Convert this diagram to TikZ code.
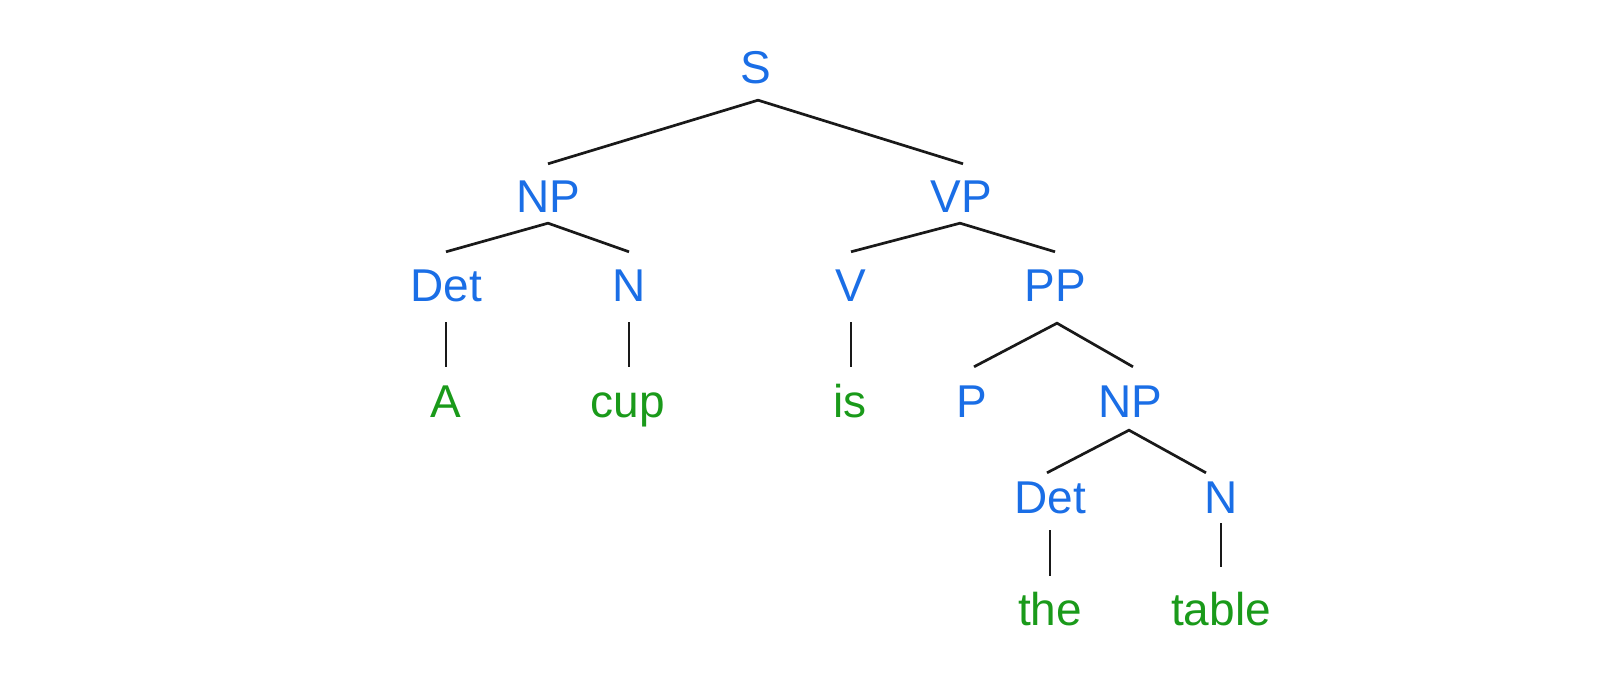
\documentclass[tikz,border=0pt]{standalone}
\usepackage{fontspec}
\setmainfont{Liberation Sans}
\definecolor{catblue}{HTML}{1A6EE6}
\definecolor{wordgreen}{HTML}{1A9A1A}
\begin{document}
\begin{tikzpicture}[x=1pt,y=1pt,
  lab/.style={anchor=base,inner sep=0pt,text height=33pt,text depth=0pt,font=\fontsize{46}{50}\selectfont},
  cat/.style={lab,text=catblue},
  word/.style={lab,text=wordgreen},
  edge/.style={line width=2.7pt,black!90}]
\useasboundingbox (0,0) rectangle (1600,672);
% rows: baselines (y up) = 672 - ydown
\node[cat] (S) at (756,588) {S};
\node[cat] (NPa) at (548,459) {NP};
\node[cat] (VP) at (961,459) {VP};
\node[cat] (DetA) at (446,370) {Det};
\node[cat] (NA) at (629,370) {N};
\node[cat] (V) at (851,370) {V};
\node[cat] (PP) at (1055,370) {PP};
\node[word] (A) at (446,254) {A};
\node[word] (cup) at (628,254) {cup};
\node[word] (is) at (850,254) {is};
\node[cat] (P) at (972,254) {P};
\node[cat] (NPb) at (1130,254) {NP};
\node[cat] (DetB) at (1050,158) {Det};
\node[cat] (NB) at (1221,158) {N};
\node[word] (the) at (1050,47) {the};
\node[word] (table) at (1221,47) {table};
% connectors
\draw[edge] ([yshift=16pt]NPa.north) -- ([xshift=2pt,yshift=-16pt]S.south) -- ([xshift=2pt,yshift=16pt]VP.north);
\draw[edge] ([yshift=17pt]DetA.north) -- ([yshift=-10pt]NPa.south) -- ([yshift=17pt]NA.north);
\draw[edge] ([yshift=17pt]V.north) -- ([xshift=-1pt,yshift=-10pt]VP.south) -- ([yshift=17pt]PP.north);
\draw[edge] ([yshift=-20pt]DetA.south) -- ([yshift=18pt]A.north);
\draw[edge] ([yshift=-20pt]NA.south) -- ([xshift=1pt,yshift=18pt]cup.north);
\draw[edge] ([yshift=-20pt]V.south) -- ([xshift=1pt,yshift=18pt]is.north);
\draw[edge] ([xshift=2pt,yshift=18pt]P.north) -- ([xshift=2pt,yshift=-21pt]PP.south) -- ([xshift=3pt,yshift=18pt]NPb.north);
\draw[edge] ([xshift=-3pt,yshift=8pt]DetB.north) -- ([xshift=-1pt,yshift=-12pt]NPb.south) -- ([xshift=-15pt,yshift=8pt]NB.north);
\draw[edge] ([yshift=-16pt]DetB.south) -- ([yshift=16pt]the.north);
\draw[edge] ([yshift=-9pt]NB.south) -- ([yshift=25pt]table.north);
\end{tikzpicture}
\end{document}
